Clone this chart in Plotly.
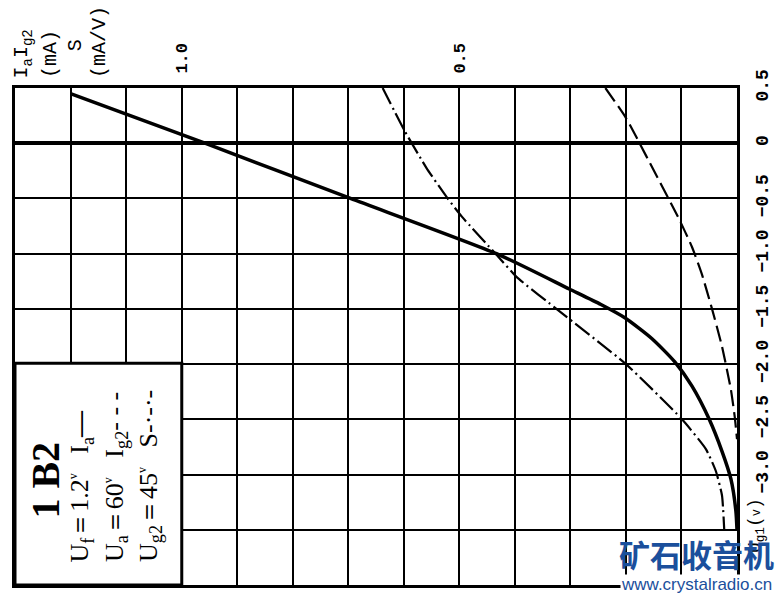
import plotly.graph_objects as go

# ---------------- data ----------------
# grid voltage Ug1 (V) and anode current Ia (mA)
ia_ug1 = [0.45, 0.0, -0.5, -1.0, -1.32, -1.46, -1.58, -1.77, -1.98, -2.20, -2.50, -2.79, -3.04, -3.33, -3.5]
ia_ma = [1.20, 0.958, 0.696, 0.433, 0.302, 0.245, 0.202, 0.153, 0.112, 0.081, 0.050, 0.027, 0.011, 0.002, 0.0]

# screen-grid current Ig2 (mA)
ig2_ug1 = [0.5, 0.23, -0.11, -0.69, -0.94, -1.19, -1.50, -1.84, -2.23, -2.48, -2.68]
ig2_ma = [0.237, 0.200, 0.164, 0.104, 0.081, 0.063, 0.045, 0.027, 0.011, 0.004, 0.0]

# transconductance S (mA/V)
s_ug1 = [0.5, 0.117, -0.225, -0.486, -0.667, -1.01, -1.21, -1.52, -2.0, -2.5, -2.77, -2.97, -3.19, -3.5]
s_mav = [0.638, 0.599, 0.559, 0.523, 0.495, 0.433, 0.397, 0.320, 0.200, 0.099, 0.056, 0.038, 0.027, 0.023]

# axis ticks
cur_ticks = [round(0.1 * i, 1) for i in range(14)]
cur_labels = {1.0: "1.0", 0.5: "0.5"}
volt_ticks = [0.5, 0.0, -0.5, -1.0, -1.5, -2.0, -2.5, -3.0, -3.5, -4.0]
volt_labels = ["0.5", "0", "−0.5", "−1.0", "−1.5", "−2.0", "−2.5", "−3.0", "", ""]

# ---------------- figure ----------------
W, H = 784, 599
L, R, T, B = 15, 738, 88, 588


def px(x):
    return (x - L) / (R - L)


def py(y):
    return (B - y) / (B - T)


fig = go.Figure()
fig.add_trace(go.Scatter(x=ia_ma, y=ia_ug1, mode="lines", name="Ia",
                         line=dict(color="black", width=3.5, shape="spline", smoothing=0.6)))
fig.add_trace(go.Scatter(x=ig2_ma, y=ig2_ug1, mode="lines", name="Ig2",
                         line=dict(color="black", width=2.2, dash="16px,6px", shape="spline", smoothing=0.5)))
fig.add_trace(go.Scatter(x=s_mav, y=s_ug1, mode="lines", name="S",
                         line=dict(color="black", width=2.2, dash="18px,4px,2px,4px", shape="spline", smoothing=0.5)))

mono = "Liberation Mono"
serif = "Liberation Serif"

fig.update_layout(
    width=W, height=H,
    margin=dict(l=L, r=W - R, t=T, b=H - B),
    paper_bgcolor="white", plot_bgcolor="white",
    showlegend=False,
    xaxis=dict(
        range=[1.3, 0], side="top", tickvals=cur_ticks,
        ticktext=[cur_labels.get(v, "") for v in cur_ticks],
        tickangle=-90, ticks="", ticklabelstandoff=8,
        tickfont=dict(family=mono, size=17, color="black", weight="bold"),
        showgrid=True, gridcolor="black", gridwidth=2,
        showline=True, linecolor="black", linewidth=3, mirror=True,
        zeroline=True, zerolinecolor="black", zerolinewidth=3,
    ),
    yaxis=dict(
        range=[-4.0, 0.5], side="right", tickvals=volt_ticks, ticktext=volt_labels,
        tickangle=-90, ticks="", ticklabelstandoff=6,
        tickfont=dict(family=mono, size=18, color="black", weight="bold"),
        showgrid=True, gridcolor="black", gridwidth=2,
        showline=True, linecolor="black", linewidth=3, mirror=True,
        zeroline=True, zerolinecolor="black", zerolinewidth=3.5,
    ),
)

# info box
fig.add_shape(type="rect", xref="paper", yref="paper",
              x0=px(15), x1=px(182), y0=py(588), y1=py(365),
              fillcolor="white", line=dict(color="black", width=3), layer="above")

ann = []
# top-left axis caption (rotated columns)
ann.append(dict(text="I<sub>a</sub>I<sub>g2</sub>", x=px(23), y=py(80), xanchor="center", yanchor="bottom",
                font=dict(family=mono, size=20)))
ann.append(dict(text="(mA)", x=px(50), y=py(80), xanchor="center", yanchor="bottom",
                font=dict(family=mono, size=20)))
ann.append(dict(text="S", x=px(75), y=py(45), xanchor="center", yanchor="middle",
                font=dict(family=mono, size=20)))
ann.append(dict(text="(mA/V)", x=px(99), y=py(80), xanchor="center", yanchor="bottom",
                font=dict(family=mono, size=20)))
# right axis title
ann.append(dict(text="U<sub>g1</sub>(<span style='font-size:12px'>v</span>)", x=px(757), y=py(498),
                xanchor="center", yanchor="top", font=dict(family=mono, size=18)))
# box content
ann.append(dict(text="<b>1 B2</b>", x=px(46), y=py(482), xanchor="center", yanchor="middle",
                font=dict(family=serif, size=40)))
sp = "&nbsp;&nbsp;&nbsp;"
vs = "<sup><span style='font-size:12px'>v</span></sup>"
ann.append(dict(text="U<sub>f</sub>＝1.2" + vs + sp + "I<sub>a</sub><b>—</b>", x=px(81), y=py(567),
                xanchor="center", yanchor="bottom", font=dict(family=serif, size=26)))
ann.append(dict(text="U<sub>a</sub>＝60" + vs + sp + "I<sub>g2</sub>- - -", x=px(116), y=py(567),
                xanchor="center", yanchor="bottom", font=dict(family=serif, size=26)))
ann.append(dict(text="U<sub>g2</sub>＝45" + vs + sp + "S-·-·-", x=px(150), y=py(567),
                xanchor="center", yanchor="bottom", font=dict(family=serif, size=26)))

for a in ann:
    a.update(xref="paper", yref="paper", showarrow=False, textangle=-90)
    a["font"].setdefault("color", "black")

# watermark
blue = "#1b4f9c"
ann.append(dict(text="<b>矿石收音机</b>", x=px(697), y=py(556), xref="paper", yref="paper",
                xanchor="center", yanchor="middle", showarrow=False,
                font=dict(family="Noto Sans CJK SC", size=31, color=blue)))
ann.append(dict(text="www.crystalradio.cn", x=px(697), y=py(587), xref="paper", yref="paper",
                xanchor="center", yanchor="middle", showarrow=False, bgcolor="white", borderpad=0,
                font=dict(family="Liberation Sans", size=17, color=blue)))

fig.update_layout(annotations=ann)
fig.write_html("out.html", config={"displayModeBar": False},
               post_script="document.body.style.margin='0';")
